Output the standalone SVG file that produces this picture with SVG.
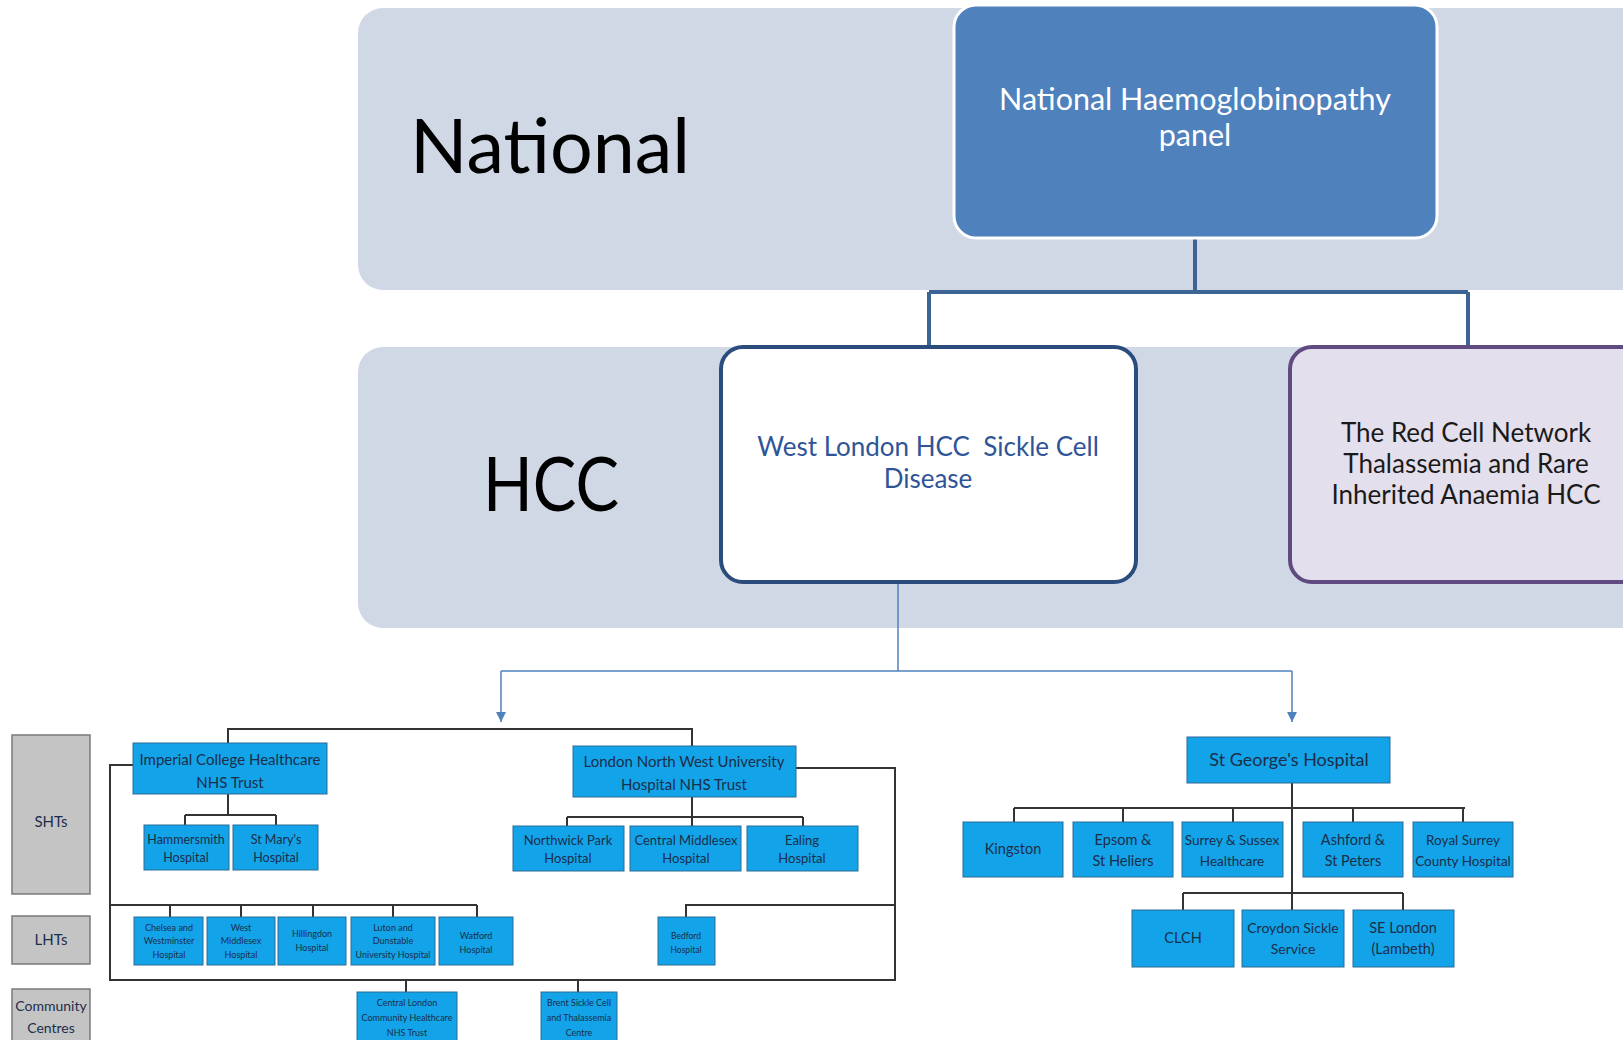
<svg xmlns="http://www.w3.org/2000/svg" width="1623" height="1040" viewBox="0 0 1623 1040">
<style>
.band{fill:#d0d8e6}
.big{font-family:Lato,"Liberation Sans",sans-serif;font-size:75px;fill:#000}
.hcc{font-family:Lato,"Liberation Sans",sans-serif;font-size:26px;text-anchor:middle}
.bl{fill:#12a3e8;stroke:#2a6c95;stroke-width:1}
.gr{fill:#c4c4c4;stroke:#7a7a7a;stroke-width:1.5}
.t{font-family:Lato,"Liberation Sans",sans-serif;text-anchor:middle;fill:#1c2e4a}
.ln{fill:none;stroke:#333;stroke-width:2}
</style>
<defs>
<marker id="ah" viewBox="0 0 10 10" refX="10" refY="5" markerWidth="10" markerHeight="10" markerUnits="userSpaceOnUse" orient="auto">
<path d="M0,0 L10,5 L0,10 z" fill="#4f81bd"/>
</marker>
</defs>
<rect class="band" x="358" y="8" width="1300" height="282" rx="25"/>
<rect class="band" x="358" y="347" width="1300" height="281" rx="25"/>
<text class="big" x="410" y="173" textLength="280" lengthAdjust="spacingAndGlyphs">National</text>
<text class="big" x="483" y="511" textLength="136" lengthAdjust="spacingAndGlyphs">HCC</text>

<g id="connectors">
<path d="M1195,238 V292 M929,292 H1468 M929,292 V347 M1468,292 V347" fill="none" stroke="#3c6596" stroke-width="4"/>
<path d="M898,578 V671 M501,671 H1292" fill="none" stroke="#4f81bd" stroke-width="1.5"/>
<path d="M501,671 V722" fill="none" stroke="#4f81bd" stroke-width="1.5" marker-end="url(#ah)"/>
<path d="M1292,671 V722" fill="none" stroke="#4f81bd" stroke-width="1.5" marker-end="url(#ah)"/>
<path class="ln" d="M228,743 V729 H692 V746"/>
<path class="ln" d="M133,765 H110 V980 H895 V768 H796"/>
<path class="ln" d="M228,794 V815 M185,815 H276 M185,815 V825 M276,815 V825"/>
<path class="ln" d="M692,797 V826 M567,817 H803 M567,817 V826 M803,817 V826"/>
<path class="ln" d="M110,905 H477 M170,905 V917 M241,905 V917 M313,905 V917 M393,905 V917 M477,905 V917"/>
<path class="ln" d="M686,917 V905 H895"/>
<path class="ln" d="M406,980 V992 M578,980 V992"/>
<path class="ln" d="M1292,783 V910 M1014,808 H1465 M1014,808 V822 M1123,808 V822 M1233,808 V822 M1353,808 V822 M1463,808 V822"/>
<path class="ln" d="M1183,893 H1403 M1183,893 V910 M1403,893 V910"/>
</g>

<g id="panel">
<rect x="954" y="5" width="483" height="233" rx="22" fill="#4f81bd" stroke="#fff" stroke-width="3"/>
<text x="1195" y="110" font-family="Lato,'Liberation Sans',sans-serif" font-size="30.5" fill="#fff" text-anchor="middle">National Haemoglobinopathy</text>
<text x="1195" y="146" font-family="Lato,'Liberation Sans',sans-serif" font-size="30.5" fill="#fff" text-anchor="middle">panel</text>
</g>
<g id="westlondon">
<rect x="721" y="347" width="415" height="235" rx="22" fill="#fff" stroke="#2a4d7e" stroke-width="4"/>
<text class="hcc" x="928" y="456" fill="#2f5597" xml:space="preserve">West London HCC  Sickle Cell</text>
<text class="hcc" x="928" y="488" fill="#2f5597">Disease</text>
</g>
<g id="redcell">
<rect x="1290" y="347" width="400" height="235" rx="22" fill="#e4dfec" stroke="#5f4b7f" stroke-width="4"/>
<text class="hcc" x="1466" y="442" fill="#1a1a1a">The Red Cell Network</text>
<text class="hcc" x="1466" y="473" fill="#1a1a1a">Thalassemia and Rare</text>
<text class="hcc" x="1466" y="504" fill="#1a1a1a">Inherited Anaemia HCC</text>
</g>

<g id="shts"><rect class="gr" x="12" y="735" width="78" height="159"/><text class="t" x="51" y="827" font-size="15" fill="#333">SHTs</text></g>
<g id="lhts"><rect class="gr" x="12" y="916" width="78" height="48"/><text class="t" x="51" y="945" font-size="15" fill="#333">LHTs</text></g>
<g id="community"><rect class="gr" x="12" y="989" width="78" height="60"/><text class="t" x="51" y="1011" font-size="14" fill="#333">Community</text><text class="t" x="51" y="1033" font-size="14" fill="#333">Centres</text></g>

<g id="imperial"><rect class="bl" x="133" y="743" width="194" height="51"/><text class="t" font-size="15"><tspan x="230" y="765">Imperial College Healthcare</tspan><tspan x="230" y="788">NHS Trust</tspan></text></g>
<g id="lnw"><rect class="bl" x="573" y="746" width="223" height="51"/><text class="t" font-size="15"><tspan x="684" y="767">London North West University</tspan><tspan x="684" y="790">Hospital NHS Trust</tspan></text></g>
<g id="hammersmith"><rect class="bl" x="144" y="825" width="85" height="45"/><text class="t" font-size="12.5"><tspan x="186" y="844">Hammersmith</tspan><tspan x="186" y="862">Hospital</tspan></text></g>
<g id="stmarys"><rect class="bl" x="233" y="825" width="85" height="45"/><text class="t" font-size="12.5"><tspan x="276" y="844">St Mary's</tspan><tspan x="276" y="862">Hospital</tspan></text></g>
<g id="northwick"><rect class="bl" x="513" y="826" width="111" height="45"/><text class="t" font-size="13"><tspan x="568" y="845">Northwick Park</tspan><tspan x="568" y="863">Hospital</tspan></text></g>
<g id="centralmiddlesex"><rect class="bl" x="630" y="826" width="111" height="45"/><text class="t" font-size="13"><tspan x="686" y="845">Central Middlesex</tspan><tspan x="686" y="863">Hospital</tspan></text></g>
<g id="ealing"><rect class="bl" x="747" y="826" width="111" height="45"/><text class="t" font-size="13"><tspan x="802" y="845">Ealing</tspan><tspan x="802" y="863">Hospital</tspan></text></g>

<g id="chelsea"><rect class="bl" x="134" y="917" width="69" height="48"/><text class="t" font-size="9"><tspan x="169" y="931">Chelsea and</tspan><tspan x="169" y="944">Westminster</tspan><tspan x="169" y="958">Hospital</tspan></text></g>
<g id="westmiddlesex"><rect class="bl" x="207" y="917" width="68" height="48"/><text class="t" font-size="9"><tspan x="241" y="931">West</tspan><tspan x="241" y="944">Middlesex</tspan><tspan x="241" y="958">Hospital</tspan></text></g>
<g id="hillingdon"><rect class="bl" x="278" y="917" width="68" height="48"/><text class="t" font-size="9"><tspan x="312" y="937">Hillingdon</tspan><tspan x="312" y="951">Hospital</tspan></text></g>
<g id="luton"><rect class="bl" x="351" y="917" width="84" height="48"/><text class="t" font-size="9"><tspan x="393" y="931">Luton and</tspan><tspan x="393" y="944">Dunstable</tspan><tspan x="393" y="958">University Hospital</tspan></text></g>
<g id="watford"><rect class="bl" x="439" y="917" width="74" height="48"/><text class="t" font-size="9"><tspan x="476" y="939">Watford</tspan><tspan x="476" y="953">Hospital</tspan></text></g>
<g id="bedford"><rect class="bl" x="658" y="917" width="57" height="48"/><text class="t" font-size="8.5"><tspan x="686" y="939">Bedford</tspan><tspan x="686" y="953">Hospital</tspan></text></g>
<g id="centrallondon"><rect class="bl" x="357" y="992" width="100" height="60"/><text class="t" font-size="9"><tspan x="407" y="1006">Central London</tspan><tspan x="407" y="1021">Community Healthcare</tspan><tspan x="407" y="1036">NHS Trust</tspan></text></g>
<g id="brent"><rect class="bl" x="541" y="992" width="76" height="60"/><text class="t" font-size="9"><tspan x="579" y="1006">Brent Sickle Cell</tspan><tspan x="579" y="1021">and Thalassemia</tspan><tspan x="579" y="1036">Centre</tspan></text></g>

<g id="stgeorges"><rect class="bl" x="1187" y="737" width="203" height="46"/><text class="t" x="1289" y="766" font-size="18">St George's Hospital</text></g>
<g id="kingston"><rect class="bl" x="963" y="822" width="100" height="55"/><text class="t" x="1013" y="854" font-size="14.5">Kingston</text></g>
<g id="epsom"><rect class="bl" x="1073" y="822" width="100" height="55"/><text class="t" font-size="14.5"><tspan x="1123" y="845">Epsom &amp;</tspan><tspan x="1123" y="866">St Heliers</tspan></text></g>
<g id="surrey"><rect class="bl" x="1182" y="822" width="101" height="55"/><text class="t" font-size="13.5"><tspan x="1232" y="845">Surrey &amp; Sussex</tspan><tspan x="1232" y="866">Healthcare</tspan></text></g>
<g id="ashford"><rect class="bl" x="1303" y="822" width="100" height="55"/><text class="t" font-size="14.5"><tspan x="1353" y="845">Ashford &amp;</tspan><tspan x="1353" y="866">St Peters</tspan></text></g>
<g id="royalsurrey"><rect class="bl" x="1413" y="822" width="100" height="55"/><text class="t" font-size="13.5"><tspan x="1463" y="845">Royal Surrey</tspan><tspan x="1463" y="866">County Hospital</tspan></text></g>
<g id="clch"><rect class="bl" x="1132" y="910" width="102" height="57"/><text class="t" x="1183" y="943" font-size="14.5">CLCH</text></g>
<g id="croydon"><rect class="bl" x="1242" y="910" width="102" height="57"/><text class="t" font-size="14"><tspan x="1293" y="933">Croydon Sickle</tspan><tspan x="1293" y="954">Service</tspan></text></g>
<g id="selondon"><rect class="bl" x="1353" y="910" width="101" height="57"/><text class="t" font-size="14.5"><tspan x="1403" y="933">SE London</tspan><tspan x="1403" y="954">(Lambeth)</tspan></text></g>
</svg>
